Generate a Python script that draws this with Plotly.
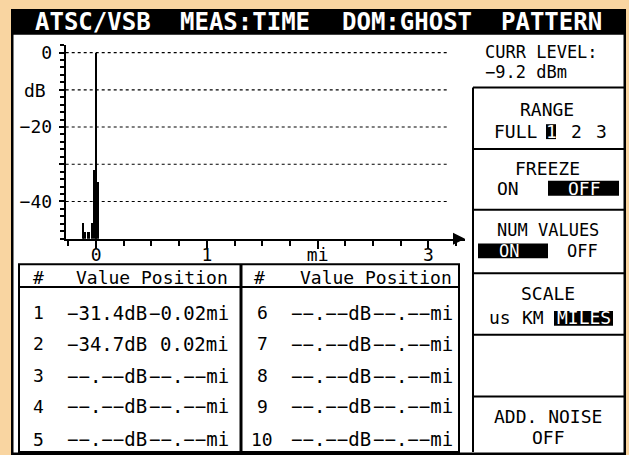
import plotly.graph_objects as go

W, H = 629, 455

# ---------------- data ----------------
ghost_pos_mi = [-0.120, -0.105, -0.072, -0.036, -0.012, 0.000, 0.015]
ghost_level_db = [-45.6, -48.2, -48.2, -45.8, -31.4, 0.0, -34.7]
ghost_width_mi = [0.013, 0.018, 0.024, 0.018, 0.030, 0.012, 0.024]

y_ticks = [0, -10, -20, -30, -40]
y_ticktext = ["0", "", "−20", "", "−40"]
x_ticks = [0, 1, 2, 3]
x_ticktext = ["0", "1", "mi", "3"]

marker_ids = ["1", "2", "3", "4", "5", "6", "7", "8", "9", "10"]
marker_values = ["−31.4dB", "−34.7dB"] + ["−−.−−dB"] * 8
marker_positions = ["−0.02mi", "0.02mi"] + ["−−.−−mi"] * 8

title_words = ["ATSC/VSB", "MEAS:TIME", "DOM:GHOST", "PATTERN"]
curr_level = ["CURR LEVEL:", "−9.2 dBm"]

FONT = "DejaVu Sans Mono"
ORANGE = "#F9D5A1"

X_RANGE = [-0.274, 3.33]
Y_RANGE = [-50, 2.1]


def X(px):
    return px / W


def Y(py):
    return 1 - py / H


fig = go.Figure()

fig.add_trace(go.Bar(
    x=ghost_pos_mi,
    y=[v - Y_RANGE[0] for v in ghost_level_db],
    base=Y_RANGE[0],
    width=ghost_width_mi,
    marker=dict(color="black", line=dict(width=0)),
    showlegend=False,
    hoverinfo="skip",
))

shapes = []
# frame
shapes.append(dict(type="rect", xref="paper", yref="paper", x0=X(11), x1=X(626), y0=Y(455), y1=Y(6),
                   fillcolor="black", line=dict(width=0), layer="below"))
shapes.append(dict(type="rect", xref="paper", yref="paper", x0=X(13.5), x1=X(623.5), y0=Y(452.5), y1=Y(32),
                   fillcolor="white", line=dict(width=0), layer="below"))
# grid lines (dotted, stopping before the arrow)
for gv in y_ticks:
    shapes.append(dict(type="line", xref="x", yref="y", x0=X_RANGE[0], x1=3.18, y0=gv, y1=gv,
                       line=dict(color="black", width=1.2, dash="dot"), layer="below"))
# right panel boxes
shapes.append(dict(type="line", xref="paper", yref="paper", x0=X(473), x1=X(473), y0=Y(452), y1=Y(85),
                   line=dict(color="black", width=2)))
for yy in [85, 147, 208, 272, 334, 396]:
    shapes.append(dict(type="line", xref="paper", yref="paper", x0=X(473), x1=X(624), y0=Y(yy), y1=Y(yy),
                       line=dict(color="black", width=2)))
# table
shapes.append(dict(type="rect", xref="paper", yref="paper", x0=X(19), x1=X(459), y0=Y(452), y1=Y(263),
                   line=dict(color="black", width=2)))
shapes.append(dict(type="line", xref="paper", yref="paper", x0=X(19), x1=X(459), y0=Y(286), y1=Y(286),
                   line=dict(color="black", width=2)))
shapes.append(dict(type="line", xref="paper", yref="paper", x0=X(241), x1=X(241), y0=Y(452), y1=Y(263),
                   line=dict(color="black", width=3)))
# highlight boxes
for (x0, x1, y0, y1) in [(546, 556, 122, 137), (548, 619, 179, 194), (478, 548, 242, 257), (554, 613, 310, 325)]:
    shapes.append(dict(type="rect", xref="paper", yref="paper", x0=X(x0), x1=X(x1), y0=Y(y1), y1=Y(y0),
                       fillcolor="black", line=dict(width=0)))

ann = []


def txt(t, x, y, anchor="center", size=18, color="black", bold=False):
    ann.append(dict(text=("<b>%s</b>" % t) if bold else t, xref="paper", yref="paper", x=X(x), y=Y(y),
                    xanchor=anchor, yanchor="middle", showarrow=False,
                    font=dict(family=FONT, size=size, color=color)))


# title
for word, cx in zip(title_words, [93, 245, 407, 551]):
    txt(word, cx, 19, size=24, color="white", bold=True)
# axis extras
txt("dB", 22, 88, anchor="left")
# axis arrows
ann.append(dict(x=X_RANGE[0], y=Y_RANGE[1] + 1.2, xref="x", yref="y", ax=0, ay=12, text="", showarrow=True,
                arrowhead=2, arrowsize=1.2, arrowwidth=2, arrowcolor="black"))
ann.append(dict(x=X_RANGE[1], y=Y_RANGE[0], xref="x", yref="y", ax=-12, ay=0, text="", showarrow=True,
                arrowhead=2, arrowsize=1.2, arrowwidth=2, arrowcolor="black"))

# table headers
txt("#", 38, 276)
txt("Value Position", 230, 276, anchor="right")
txt("#", 259, 276)
txt("Value Position", 454, 276, anchor="right")
row_y = [312, 343, 375, 406, 439]
for i in range(10):
    half = i // 5
    ry = row_y[i % 5]
    if half == 0:
        txt(marker_ids[i], 38, ry)
        txt(marker_values[i], 149, ry, anchor="right", size=19)
        txt(marker_positions[i], 231, ry, anchor="right", size=19)
    else:
        txt(marker_ids[i], 262, ry)
        txt(marker_values[i], 373, ry, anchor="right", size=19)
        txt(marker_positions[i], 455, ry, anchor="right", size=19)

# right panel
txt(curr_level[0], 483, 49, anchor="left", size=17)
txt(curr_level[1], 483, 69, anchor="left", size=17)
txt("RANGE", 547, 107)
txt("FULL", 492, 129, anchor="left")
txt("1", 551, 129, color="white")
txt("2", 576, 129)
txt("3", 601, 129)
txt("FREEZE", 547, 167)
txt("ON", 495, 187, anchor="left")
txt("OFF", 584, 187, color="white")
txt("NUM VALUES", 548, 229, size=17)
txt("ON", 509, 250, color="white", size=17)
txt("OFF", 582, 250, size=17)
txt("SCALE", 548, 292)
txt("us", 487, 317, anchor="left")
txt("KM", 533, 317)
txt("MILES", 584, 317, color="white")
txt("ADD. NOISE", 548, 416)
txt("OFF", 548, 437)

fig.update_layout(
    width=W, height=H,
    margin=dict(l=0, r=0, t=0, b=0),
    paper_bgcolor=ORANGE,
    plot_bgcolor="rgba(0,0,0,0)",
    shapes=shapes,
    annotations=ann,
    bargap=0,
    showlegend=False,
    xaxis=dict(
        domain=[X(65.7), X(465)], range=X_RANGE,
        tickvals=x_ticks, ticktext=x_ticktext,
        ticks="outside", ticklen=8, tickwidth=2, tickcolor="black",
        minor=dict(dtick=0.25, tick0=0, ticks="outside", ticklen=5, tickwidth=2, tickcolor="black"),
        showline=True, linecolor="black", linewidth=2,
        showgrid=False, zeroline=False,
        tickfont=dict(family=FONT, size=18, color="black"),
        ticklabelstandoff=-9,
        fixedrange=True,
    ),
    yaxis=dict(
        domain=[Y(237.3), Y(42)], range=Y_RANGE,
        tickvals=y_ticks, ticktext=y_ticktext,
        ticks="outside", ticklen=5, tickwidth=2, tickcolor="black",
        minor=dict(dtick=2, tick0=0, ticks="outside", ticklen=4, tickwidth=1.5, tickcolor="black"),
        showline=True, linecolor="black", linewidth=2,
        showgrid=False, zeroline=False,
        tickfont=dict(family=FONT, size=18, color="black"),
        ticklabelstandoff=3,
        fixedrange=True,
    ),
)

fig.write_html("out.html", config={"displayModeBar": False},
               post_script="document.body.style.margin='0';document.body.style.overflow='hidden';")
